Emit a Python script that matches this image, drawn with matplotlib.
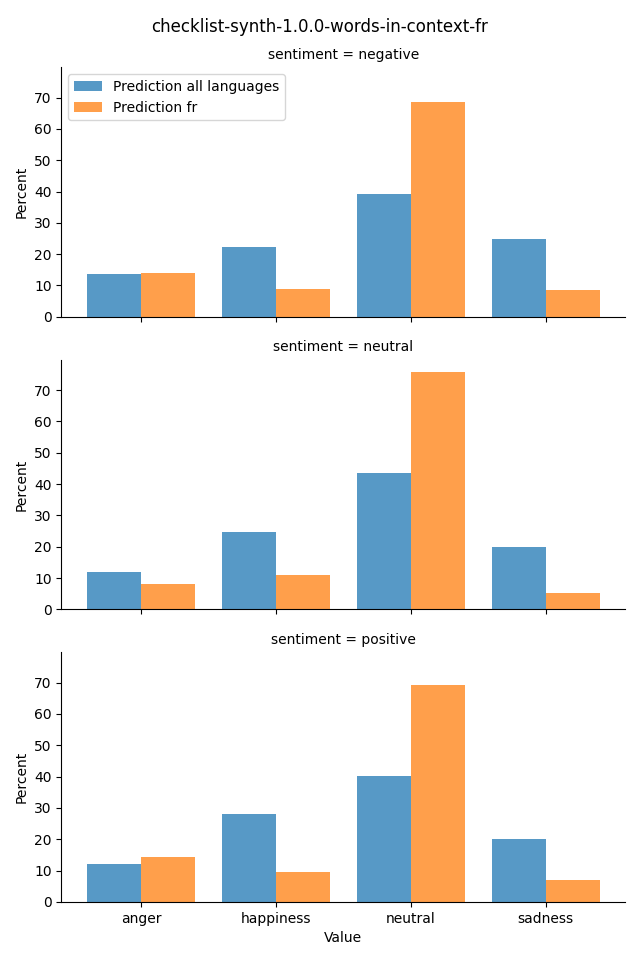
import matplotlib
matplotlib.use("Agg")
import matplotlib.pyplot as plt
import numpy as np

# --- dati ---
values = ["anger", "happiness", "neutral", "sadness"]
sentiments = ["negative", "neutral", "positive"]

pred_all = {
    "negative": [13.7, 22.3, 39.3, 24.9],
    "neutral": [11.9, 24.7, 43.6, 19.9],
    "positive": [12.1, 28.1, 40.2, 20.1],
}
pred_fr = {
    "negative": [14.0, 8.9, 68.6, 8.6],
    "neutral": [8.1, 11.0, 75.9, 5.2],
    "positive": [14.4, 9.6, 69.3, 7.0],
}

fig, axes = plt.subplots(3, 1, figsize=(6.4, 9.6), dpi=100, sharex=True, sharey=True)
fig.subplots_adjust(left=0.096, right=0.977, top=0.930, bottom=0.0605, hspace=0.172)

x = np.arange(len(values))
w = 0.4
for ax, s in zip(axes, sentiments):
    ax.bar(x - w / 2, pred_all[s], width=w, color="tab:blue", alpha=0.75,
           label="Prediction all languages")
    ax.bar(x + w / 2, pred_fr[s], width=w, color="tab:orange", alpha=0.75,
           label="Prediction fr")
    ax.set_title(f"sentiment = {s}", fontsize=10)
    ax.set_ylabel("Percent")
    ax.spines["top"].set_visible(False)
    ax.spines["right"].set_visible(False)

axes[0].legend(loc="upper left")
axes[-1].set_xticks(x)
axes[-1].set_xticklabels(values)
axes[-1].set_xlabel("Value")

fig.suptitle("checklist-synth-1.0.0-words-in-context-fr", y=0.981)
fig.savefig("out.png", dpi=100)
